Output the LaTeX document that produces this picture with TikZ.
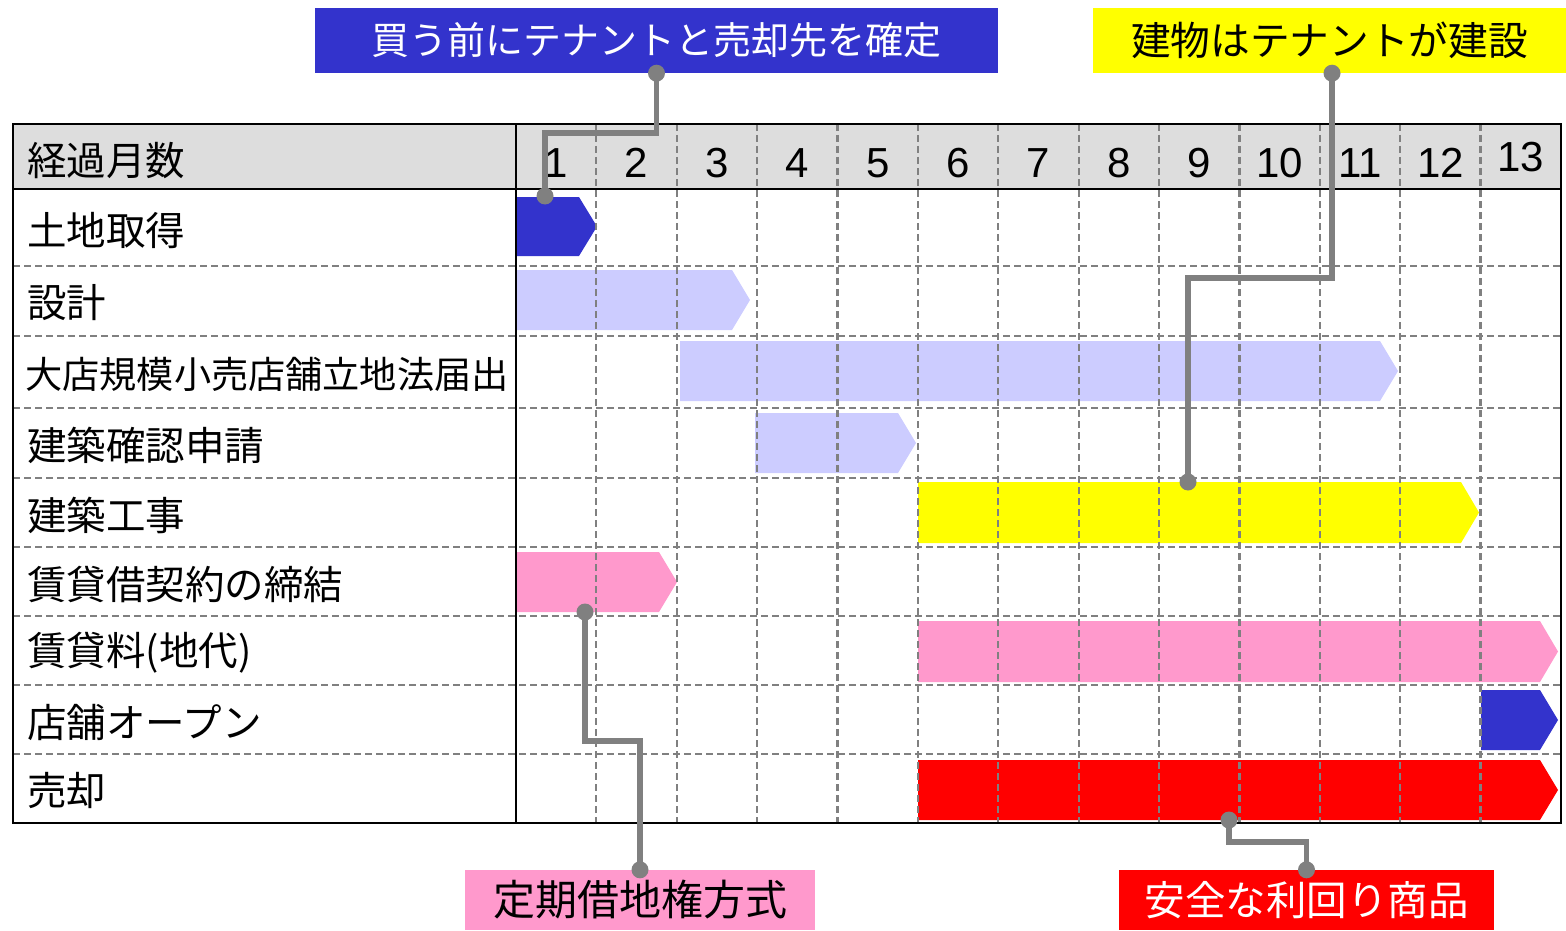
\documentclass[tikz,border=0pt]{standalone}
\usepackage{fontspec}
\setmainfont{Noto Sans CJK JP}
\newfontfamily\digitfont{Liberation Sans}
\definecolor{cblue}{HTML}{3333CC}
\definecolor{clav}{HTML}{CCCCFF}
\definecolor{cyel}{HTML}{FFFF00}
\definecolor{cpink}{HTML}{FF99CC}
\definecolor{cred}{HTML}{FF0000}
\definecolor{chead}{HTML}{DDDDDD}
\definecolor{cgrid}{HTML}{808080}
\newcommand\ganttbar[5]{%
  \fill[#5] (#1,#3) -- ({#2-18},#3) -- (#2,{(#3+#4)/2}) -- ({#2-18},#4) -- (#1,#4) -- cycle;}
\tikzset{
  gridline/.style={cgrid,line width=2.2pt,dash pattern=on 7pt off 4pt},
  frame/.style={black,line width=2.5pt},
  rowlabel/.style={anchor=west,inner sep=0pt,font=\fontsize{39.5}{39.5}\selectfont},
  monthlabel/.style={inner sep=0pt,font=\digitfont\fontsize{42}{42}\selectfont},
  callout/.style={inner sep=0pt,font=\fontsize{38}{38}\selectfont},
  leader/.style={cgrid,line width=5.5pt},
  leaderdot/.style={cgrid,fill=cgrid},
}
\begin{document}
\begin{tikzpicture}[x=1pt,y=-1pt]
\useasboundingbox (0,0) rectangle (1566,931);
% header fill
\fill[chead] (13,124) rectangle (1561,189);
% bars
\ganttbar{516}{597}{197}{256}{cblue}
\ganttbar{516}{750}{270}{330}{clav}
\ganttbar{680}{1398}{341}{401}{clav}
\ganttbar{755}{916}{413}{473}{clav}
\ganttbar{918}{1479}{482}{543}{cyel}
\ganttbar{516}{677}{552}{612}{cpink}
\ganttbar{918}{1558}{621}{682}{cpink}
\ganttbar{1481}{1558}{690}{750}{cblue}
\ganttbar{918}{1558}{760}{820}{cred}
% dashed grid
\foreach \y in {266,336,408,478,547,616,685,754}
  \draw[gridline] (13,\y) -- (1561,\y);
\foreach \i in {1,...,12}
  \draw[gridline] ({516+\i*80.38},124) -- ({516+\i*80.38},823);
% solid frame
\draw[frame] (13,124) rectangle (1561,823);
\draw[frame] (516,124) -- (516,823);
\draw[frame] (13,189) -- (1561,189);
% header texts
\node[rowlabel] (hdr) at (27,161) {経過月数};
\foreach \i in {1,...,12}
  \node[monthlabel] (m\i) at ({516+(\i-0.5)*80.38},163) {\i};
\node[monthlabel] (m13) at ({516+12.5*80.38},157) {13};
% row labels
\node[rowlabel] (r1) at (27,231) {土地取得};
\node[rowlabel] (r2) at (27,303) {設計};
\node[rowlabel,font=\fontsize{37.2}{37.2}\selectfont] (r3) at (25,374) {大店規模小売店舗立地法届出};
\node[rowlabel] (r4) at (27,445) {建築確認申請};
\node[rowlabel] (r5) at (27,515) {建築工事};
\node[rowlabel] (r6) at (27,584) {賃貸借契約の締結};
\node[rowlabel] (r7) at (27,653) {賃貸料(地代)};
\node[rowlabel] (r8) at (27,722) {店舗オープン};
\node[rowlabel] (r9) at (27,791) {売却};
% callout boxes
\node[callout,fill=cblue,text=white,minimum width=683pt,minimum height=65pt] (b1) at (656.5,40.5) {買う前にテナントと売却先を確定};
\node[callout,fill=cyel,text=black,minimum width=473pt,minimum height=65pt,font=\fontsize{39.7}{39.7}\selectfont] (b2) at (1329.5,40.5) {建物はテナントが建設};
\node[callout,fill=cpink,text=black,minimum width=350pt,minimum height=60pt,font=\fontsize{42}{42}\selectfont] (b3) at (640,900) {定期借地権方式};
\node[callout,fill=cred,text=white,minimum width=375pt,minimum height=60pt,font=\fontsize{40.5}{40.5}\selectfont] (b4) at (1306.5,900) {安全な利回り商品};
% leader end points
\coordinate (d1) at (545,196);
\coordinate (d2) at (1188,482);
\coordinate (d3) at (585,612);
\coordinate (d4) at (1229,820);
\coordinate (s2) at ([xshift=2.5pt]b2.south);
% leaders
\draw[leader] (b1.south) -- ++(0,60) -| (d1);
\draw[leader] (s2) -- ++(0,205) -| (d2);
\draw[leader] (d3) -- (585,741) -| (b3.north);
\draw[leader] (d4) -- (1229,842) -| (b4.north);
\foreach \p in {b1.south,d1,s2,d2,d3,b3.north,d4,b4.north}
  \fill[leaderdot] (\p) circle (8.5);
\end{tikzpicture}
\end{document}
